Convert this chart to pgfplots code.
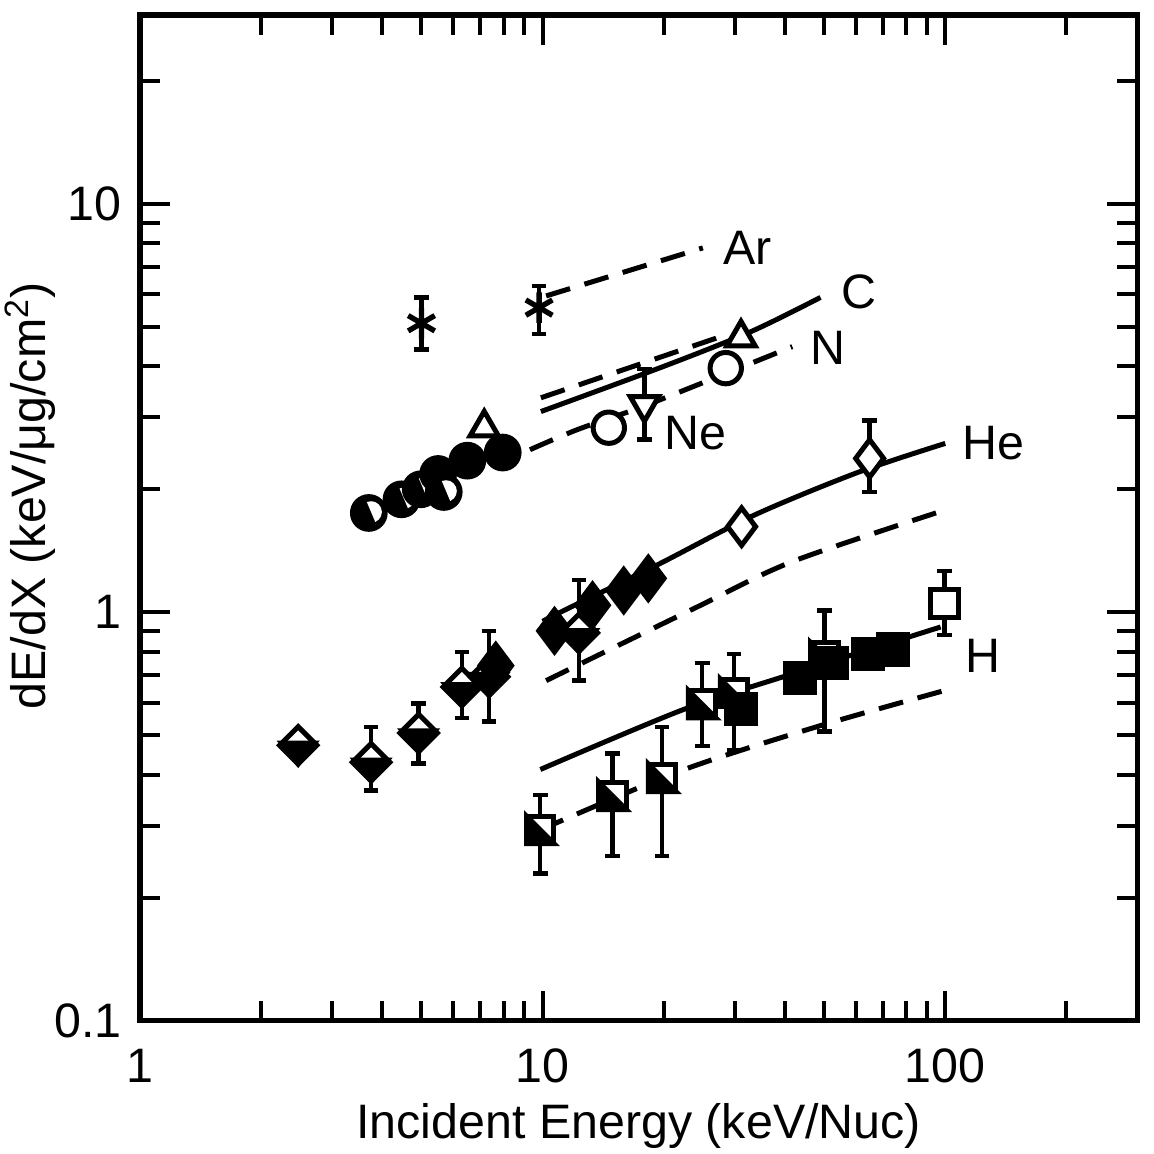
\documentclass[border=0pt]{standalone}
\usepackage{pgfplots}
\pgfplotsset{compat=1.18}
\usepackage{fontspec}
\setmainfont{Liberation Sans}
\usetikzlibrary{plotmarks}

% half diamond: top white, bottom black
\pgfdeclareplotmark{hdiam}{%
  \pgfpathmoveto{\pgfqpoint{0pt}{\pgfplotmarksize}}%
  \pgfpathlineto{\pgfqpoint{\pgfplotmarksize}{0pt}}%
  \pgfpathlineto{\pgfqpoint{0pt}{-\pgfplotmarksize}}%
  \pgfpathlineto{\pgfqpoint{-\pgfplotmarksize}{0pt}}%
  \pgfpathclose
  \pgfsetfillcolor{white}\pgfusepathqfillstroke
  \pgfpathmoveto{\pgfqpoint{0.88\pgfplotmarksize}{0.12\pgfplotmarksize}}%
  \pgfpathlineto{\pgfqpoint{0pt}{-\pgfplotmarksize}}%
  \pgfpathlineto{\pgfqpoint{-0.88\pgfplotmarksize}{0.12\pgfplotmarksize}}%
  \pgfpathclose
  \pgfsetfillcolor{black}\pgfusepathqfillstroke
}
% half square: lower-left triangle black, upper-right white
\pgfdeclareplotmark{hsq}{%
  \pgfpathrectanglecorners{\pgfqpoint{-\pgfplotmarksize}{-\pgfplotmarksize}}{\pgfqpoint{\pgfplotmarksize}{\pgfplotmarksize}}%
  \pgfsetfillcolor{white}\pgfusepathqfillstroke
  \pgfpathmoveto{\pgfqpoint{-\pgfplotmarksize}{\pgfplotmarksize}}%
  \pgfpathlineto{\pgfqpoint{\pgfplotmarksize}{-\pgfplotmarksize}}%
  \pgfpathlineto{\pgfqpoint{-\pgfplotmarksize}{-\pgfplotmarksize}}%
  \pgfpathclose
  \pgfsetfillcolor{black}\pgfusepathqfillstroke
}
% black circle with a white segment on the right
\pgfdeclareplotmark{hcirc}{%
  \pgfpathcircle{\pgfpointorigin}{\pgfplotmarksize}%
  \pgfsetfillcolor{black}\pgfusepathqfillstroke
  \pgftransformrotate{23}%
  \pgfpathmoveto{\pgfqpoint{0.15\pgfplotmarksize}{0.66\pgfplotmarksize}}%
  \pgfpatharc{90}{-90}{0.66\pgfplotmarksize}%
  \pgfpathclose
  \pgfsetfillcolor{white}\pgfusepathqfill
}

\begin{document}
\begin{tikzpicture}
\begin{axis}[
  xmode=log, ymode=log,
  xmin=1, xmax=300, ymin=0.1, ymax=29,
  scale only axis, width=299pt, height=301.5pt,
  xtick={1,10,100}, xticklabels={1,10,100},
  ytick={0.1,1,10}, yticklabels={0.1,1,10},
  minor xtick={2,3,4,5,6,7,8,9,20,30,40,50,60,70,80,90,200},
  minor ytick={0.2,0.3,0.4,0.5,0.6,0.7,0.8,0.9,2,3,4,5,6,7,8,9,20},
  tick align=inside,
  major tick length=9pt, minor tick length=6pt,
  every tick/.style={black, line width=1.2pt},
  axis line style={line width=1.6pt},
  tick label style={font=\fontsize{14.5}{16}\selectfont},
  xticklabel style={yshift=-5pt},
  yticklabel style={xshift=-2pt},
  /pgf/number format/assume math mode=true,
  xlabel={Incident Energy (keV/Nuc)},
  ylabel={dE/dX (keV/μg/cm\textsuperscript{2})},
  label style={font=\fontsize{14.5}{17}\selectfont},
  xlabel style={at={(axis description cs:0.5,0)}, anchor=center, yshift=-31.5pt},
  ylabel style={at={(axis description cs:-0.110,0.522)}, anchor=center},
  clip=false,
  every axis plot/.append style={black, line width=1.5pt},
  error bars/error mark options={rotate=90, line width=1.3pt, mark size=2.2pt},
  error bars/error bar style={line width=1.3pt},
]
% ---------- theory curves ----------
\addplot[dash pattern=on 7.5pt off 4.5pt] coordinates {(10.2,5.95) (25,7.8)};           % Ar
\addplot[dash pattern=on 7.5pt off 4.5pt] coordinates {(9.9,3.35) (28.4,4.77)};          % Ne
\addplot[smooth] coordinates {(9.9,3.1) (20,4.0) (33,4.87) (49,5.9)};                   % C
\addplot[dash pattern=on 7.5pt off 4.5pt, smooth] coordinates {(9.3,2.5) (12.2,2.8) (17.3,3.16) (25.4,3.67) (41.7,4.47)}; % N
\addplot[smooth] coordinates {(10,0.95) (11.3,1.01) (19.4,1.31) (33.6,1.73) (60.7,2.2) (100,2.59)}; % He
\addplot[dash pattern=on 7.5pt off 4.5pt, smooth] coordinates {(10.2,0.68) (24.2,1.03) (41.7,1.33) (100,1.78)}; % He dashed
\addplot[smooth] coordinates {(9.87,0.412) (22.2,0.576) (40.5,0.70) (97.4,0.92)};       % H
\addplot[dash pattern=on 7.5pt off 4.5pt, smooth] coordinates {(9.86,0.293) (22.2,0.41) (48.5,0.526) (97.9,0.64)}; % H dashed

% ---------- data ----------
% Ar asterisks
\addplot[only marks, mark=asterisk, mark size=4.6pt, mark options={line width=1.6pt},
  error bars/.cd, y dir=both, y explicit]
  table[x=x, y=y, y error plus=ep, y error minus=em] {
x y ep em
5.0 5.1 0.8 0.7
9.8 5.57 0.73 0.77
};
% heavy-ion circles
\addplot[only marks, mark=hcirc, mark size=4.9pt] coordinates {(3.70,1.75) (4.46,1.89) (4.98,2.00)};
\addplot[only marks, mark=*, mark size=4.9pt, fill=black] coordinates {(5.5,2.18)};
\addplot[only marks, mark=hcirc, mark size=4.9pt] coordinates {(5.68,1.97)};
\addplot[only marks, mark=*, mark size=4.9pt, fill=black] coordinates {(6.5,2.35) (7.96,2.46)};
% C triangles
\addplot[only marks, mark=triangle*, mark size=4.9pt, fill=white] coordinates {(7.16,2.83) (31.1,4.7)};
% N circles
\addplot[only marks, mark=*, mark size=4.7pt, fill=white] coordinates {(14.6,2.83) (28.5,3.96)};
% Ne triangle down
\addplot[only marks, mark=triangle*, mark size=4.9pt, fill=white, mark options={rotate=180},
  error bars/.cd, y dir=both, y explicit]
  table[x=x, y=y, y error plus=ep, y error minus=em] {
x y ep em
17.9 3.22 0.72 0.57
};
% He half diamonds
\addplot[only marks, mark=hdiam, mark size=5.6pt,
  error bars/.cd, y dir=both, y explicit]
  table[x=x, y=y, y error plus=ep, y error minus=em] {
x y ep em
3.75 0.429 0.095 0.063
4.92 0.506 0.092 0.080
6.3 0.656 0.144 0.106
7.36 0.695 0.205 0.155
};
\addplot[only marks, mark=hdiam, mark size=5.6pt] coordinates {(2.47,0.472)};
\addplot[only marks, mark=diamond*, mark size=6.3pt, fill=black] coordinates {(7.65,0.74) (10.7,0.90) (13.3,1.04) (15.9,1.13) (18.3,1.21)};
\addplot[only marks, mark=hdiam, mark size=5.6pt,
  error bars/.cd, y dir=both, y explicit]
  table[x=x, y=y, y error plus=ep, y error minus=em] {
x y ep em
12.3 0.89 0.31 0.21
};
% He open diamonds
\addplot[only marks, mark=diamond*, mark size=5.6pt, fill=white] coordinates {(31.2,1.62)};
\addplot[only marks, mark=diamond*, mark size=5.6pt, fill=white,
  error bars/.cd, y dir=both, y explicit]
  table[x=x, y=y, y error plus=ep, y error minus=em] {
x y ep em
64.9 2.38 0.57 0.41
};
% H half squares
\addplot[only marks, mark=hsq, mark size=4.1pt,
  error bars/.cd, y dir=both, y explicit]
  table[x=x, y=y, y error plus=ep, y error minus=em] {
x y ep em
9.86 0.293 0.064 0.064
14.9 0.355 0.096 0.102
19.8 0.393 0.131 0.14
24.9 0.595 0.155 0.125
29.9 0.635 0.155 0.175
50.1 0.78 0.23 0.27
};
\addplot[only marks, mark=square*, mark size=4.4pt, fill=black] coordinates {(31.1,0.58) (43.6,0.69) (52.2,0.75) (64.2,0.79) (74.3,0.81)};
% H open square
\addplot[only marks, mark=square*, mark size=4.1pt, fill=white,
  error bars/.cd, y dir=both, y explicit]
  table[x=x, y=y, y error plus=ep, y error minus=em] {
x y ep em
99.5 1.05 0.21 0.17
};

% ---------- labels ----------
\begin{scope}[every node/.style={font=\fontsize{14.5}{17}\selectfont, inner sep=0pt}]
\node[anchor=west] at (axis cs:28,7.8) {Ar};
\node[anchor=west] at (axis cs:55,6.1) {C};
\node[anchor=west] at (axis cs:46,4.44) {N};
\node[anchor=west] at (axis cs:20,2.75) {Ne};
\node[anchor=west] at (axis cs:110,2.6) {He};
\node[anchor=west] at (axis cs:112,0.78) {H};
\end{scope}
\end{axis}
\pgfresetboundingbox
\path[use as bounding box] ([shift={(-42pt,-40pt)}]current axis.south west) rectangle ([shift={(5pt,4.5pt)}]current axis.north east);
\end{tikzpicture}
\end{document}
